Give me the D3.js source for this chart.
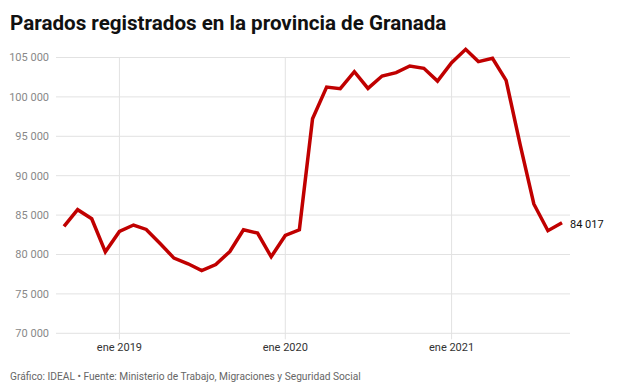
<!DOCTYPE html>
<html><head><meta charset="utf-8">
<script src="https://cdn.jsdelivr.net/npm/d3@7"></script>
<style>
body{margin:0;background:#fff;font-family:Roboto,"Noto Sans",sans-serif;}
</style></head>
<body><svg id="c" width="624" height="385"></svg>
<script>
const startMonth = "2018-09";
const values = [83560, 85690, 84540, 80340, 82930, 83740, 83180, 81360, 79540, 78820, 77970, 78730,
  80380, 83140, 82720, 79710, 82420, 83140, 97230, 101250, 101040, 103200, 101080, 102650,
  103080, 103920, 103630, 102010, 104350, 106040, 104480, 104900, 102100, 93900, 86410, 83020, 84017];
const yTicks = [70000, 75000, 80000, 85000, 90000, 95000, 100000, 105000];
const xTickDates = ["2019-01", "2020-01", "2021-01"];
const xTickLabels = ["ene 2019", "ene 2020", "ene 2021"];
const title = "Parados registrados en la provincia de Granada";
const footer = "Gráfico: IDEAL • Fuente: Ministerio de Trabajo, Migraciones y Seguridad Social";

const parse = d3.timeParse("%Y-%m");
const start = parse(startMonth);
const data = values.map((v, i) => ({date: d3.timeMonth.offset(start, i), value: v}));

const loc = d3.formatLocale({decimal: ",", thousands: " ", grouping: [3], currency: ["", "€"]});
const fmt = loc.format(",d");

const svg = d3.select("#c");
const mLeft = 56, mRight = 570, mTop = 57.5, mBottom = 333.3;
const x = d3.scaleTime().domain([data[0].date, data[data.length-1].date]).range([64, 562]);
const y = d3.scaleLinear().domain([70000, 105000]).range([mBottom, mTop]);

svg.append("text").attr("x", 10).attr("y", 30).text(title)
  .attr("font-size", 20.6).attr("font-weight", "bold").attr("fill", "#111")
  .attr("font-family", "Roboto, sans-serif");

// horizontal grid + y labels
const ya = svg.append("g");
ya.selectAll("line").data(yTicks).join("line")
  .attr("x1", mLeft).attr("x2", mRight)
  .attr("y1", d => y(d)).attr("y2", d => y(d))
  .attr("stroke", "#e2e2e2").attr("stroke-width", 1);
ya.selectAll("text").data(yTicks).join("text")
  .attr("x", 49).attr("y", d => y(d)).attr("dy", "0.35em")
  .attr("text-anchor", "end").attr("font-size", 11).attr("fill", "#888")
  .text(d => fmt(d));

// vertical grid + x labels
const xd = xTickDates.map(parse);
const xa = svg.append("g");
xa.selectAll("line").data(xd).join("line")
  .attr("x1", d => x(d)).attr("x2", d => x(d))
  .attr("y1", mTop).attr("y2", mBottom + 6)
  .attr("stroke", "#e2e2e2").attr("stroke-width", 1);
xa.selectAll("text").data(xd).join("text")
  .attr("x", d => x(d)).attr("y", 351)
  .attr("text-anchor", "middle").attr("font-size", 11).attr("fill", "#333")
  .text((d, i) => xTickLabels[i]);

// line
const line = d3.line().x(d => x(d.date)).y(d => y(d.value));
svg.append("path").datum(data).attr("d", line)
  .attr("fill", "none").attr("stroke", "#c00000").attr("stroke-width", 3.5)
  .attr("stroke-linejoin", "miter").attr("stroke-linecap", "butt");

const last = data[data.length-1];
svg.append("text").attr("x", x(last.date) + 8).attr("y", y(last.value) + 1).attr("dy", "0.35em")
  .attr("font-size", 11).attr("fill", "#111").text(fmt(last.value));

svg.append("text").attr("x", 10).attr("y", 380).text(footer)
  .attr("font-size", 10.2).attr("fill", "#666");
</script></body></html>
